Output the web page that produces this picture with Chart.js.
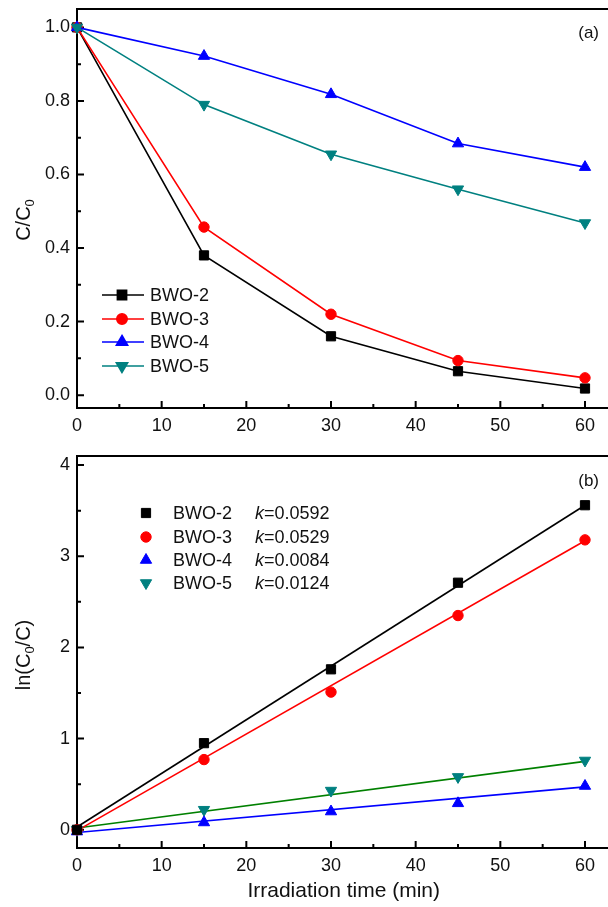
<!DOCTYPE html>
<html>
<head>
<meta charset="utf-8">
<script src="https://cdn.jsdelivr.net/npm/chart.js@4"></script>
<style>
  body { margin: 0; overflow: hidden; background: #fff; width: 608px; height: 907px; }
  .panel { position: absolute; left: 0; }
</style>
</head>
<body>
<div class="panel" style="top:0"><canvas id="chart_a" width="620" height="440"></canvas></div>
<div class="panel" style="top:440px"><canvas id="chart_b" width="620" height="467"></canvas></div>
<script>
// ---- data ----
const times = [0, 15, 30, 45, 60];
const names = ['BWO-2', 'BWO-3', 'BWO-4', 'BWO-5'];
const rates = ['0.0592', '0.0529', '0.0084', '0.0124'];

// (a) C/C0
const ratio_bwo2 = [1.0, 0.38, 0.16, 0.065, 0.018];
const ratio_bwo3 = [1.0, 0.457, 0.22, 0.094, 0.047];
const ratio_bwo4 = [1.0, 0.922, 0.818, 0.684, 0.62];
const ratio_bwo5 = [1.0, 0.79, 0.655, 0.56, 0.468];

// (b) ln(C0/C) and linear fits (value at x=0 and x=60)
const ln_bwo2 = [0, 0.95, 1.76, 2.71, 3.56];
const ln_bwo3 = [0, 0.77, 1.51, 2.35, 3.18];
const ln_bwo4 = [-0.02, 0.08, 0.2, 0.29, 0.48];
const ln_bwo5 = [0, 0.22, 0.43, 0.58, 0.76];
const fit_x = [0, 60];
const fit_bwo2 = [0.03, 3.56];
const fit_bwo3 = [-0.01, 3.17];
const fit_bwo4 = [-0.03, 0.47];
const fit_bwo5 = [0.02, 0.75];

const x_ticks = [0, 10, 20, 30, 40, 50, 60];
const y_ticks_a = [0, 0.2, 0.4, 0.6, 0.8, 1.0];
const y_ticks_b = [0, 1, 2, 3, 4];

// ---- styles ----
const colors = ['#000000', '#ff0000', '#0000ff', '#008080'];
const fit_colors = ['#000000', '#ff0000', '#0000ff', '#008000'];
const markers = [
    {pointStyle: 'rect', radius: 6.5, rotation: 0},
    {pointStyle: 'circle', radius: 5.2, rotation: 0},
    {pointStyle: 'triangle', radius: 6.5, rotation: 0},
    {pointStyle: 'triangle', radius: 6.5, rotation: 180},
];
const FONT = 'Arial, "Liberation Sans", sans-serif';
const TEXT = '#111';

function points(xs, ys) {
    return xs.map((x, i) => ({x: x, y: ys[i]}));
}

function minor_of(ticks) {
    const out = [];
    for (let i = 1; i < ticks.length; i++) out.push((ticks[i - 1] + ticks[i]) / 2);
    return out;
}

function no_padding(sc) {
    sc.paddingTop = 0;
    sc.paddingBottom = 0;
    sc.paddingLeft = 0;
    sc.paddingRight = 0;
}

// frame + inward ticks, drawn before the data so markers sit on top
const frame_plugin = {
    id: 'frame',
    beforeDatasetsDraw(chart, args, opts) {
        const {ctx, chartArea: a} = chart;
        const xs = chart.scales.x, ys = chart.scales.y;
        ctx.save();
        ctx.strokeStyle = '#000';
        ctx.lineWidth = 2;
        ctx.strokeRect(a.left, a.top, a.right - a.left, a.bottom - a.top);
        ctx.beginPath();
        opts.xTicks.forEach(v => { const p = xs.getPixelForValue(v); ctx.moveTo(p, a.bottom); ctx.lineTo(p, a.bottom - 7); });
        minor_of(opts.xTicks).forEach(v => { const p = xs.getPixelForValue(v); ctx.moveTo(p, a.bottom); ctx.lineTo(p, a.bottom - 4); });
        opts.yTicks.forEach(v => { const p = ys.getPixelForValue(v); ctx.moveTo(a.left, p); ctx.lineTo(a.left + 7, p); });
        minor_of(opts.yTicks).forEach(v => { const p = ys.getPixelForValue(v); ctx.moveTo(a.left, p); ctx.lineTo(a.left + 4, p); });
        ctx.stroke();
        ctx.restore();
    },
    afterDraw(chart, args, opts) {
        const ctx = chart.ctx;
        ctx.save();
        ctx.fillStyle = TEXT;
        // panel label
        ctx.font = '17px ' + FONT;
        ctx.textAlign = 'right';
        ctx.textBaseline = 'middle';
        ctx.fillText(opts.label, 599, opts.labelY);
        // rotated y title with subscript
        ctx.translate(23, opts.titleY);
        ctx.rotate(-Math.PI / 2);
        const big = '20px ' + FONT, small = '13px ' + FONT;
        const parts = opts.title;
        let w = 0;
        parts.forEach(p => { ctx.font = p.sub ? small : big; w += ctx.measureText(p.t).width; });
        let x = -w / 2;
        ctx.textAlign = 'left';
        ctx.textBaseline = 'alphabetic';
        parts.forEach(p => {
            ctx.font = p.sub ? small : big;
            ctx.fillText(p.t, x, p.sub ? 11 : 7);
            x += ctx.measureText(p.t).width;
        });
        ctx.restore();
    }
};

function draw_marker(ctx, i, x, y) {
    ctx.fillStyle = colors[i];
    ctx.strokeStyle = colors[i];
    Chart.helpers.drawPoint(ctx, {
        pointStyle: markers[i].pointStyle,
        radius: markers[i].radius,
        rotation: markers[i].rotation,
        borderWidth: 1
    }, x, y);
}

const legend_a = {
    id: 'legend_a',
    afterDraw(chart) {
        const ctx = chart.ctx;
        const rows = [295, 319, 342, 366];
        ctx.save();
        names.forEach((n, i) => {
            const y = rows[i];
            ctx.strokeStyle = colors[i];
            ctx.lineWidth = 1.6;
            ctx.beginPath(); ctx.moveTo(102, y); ctx.lineTo(144, y); ctx.stroke();
            draw_marker(ctx, i, 122, y);
            ctx.fillStyle = TEXT;
            ctx.font = '18px ' + FONT;
            ctx.textAlign = 'left';
            ctx.textBaseline = 'middle';
            ctx.fillText(n, 150, y + 1);
        });
        ctx.restore();
    }
};

const legend_b = {
    id: 'legend_b',
    afterDraw(chart) {
        const ctx = chart.ctx;
        const rows = [73, 97, 120, 143];
        ctx.save();
        names.forEach((n, i) => {
            const y = rows[i];
            draw_marker(ctx, i, 146, y);
            ctx.fillStyle = TEXT;
            ctx.textAlign = 'left';
            ctx.textBaseline = 'middle';
            ctx.font = '18px ' + FONT;
            ctx.fillText(n, 173, y + 1);
            ctx.font = 'italic 18px ' + FONT;
            ctx.fillText('k', 255, y + 1);
            const kw = ctx.measureText('k').width;
            ctx.font = '18px ' + FONT;
            ctx.fillText('=' + rates[i], 255 + kw, y + 1);
        });
        ctx.restore();
    }
};

function x_scale(title, height) {
    const s = {
        type: 'linear',
        min: 0,
        max: 63,
        grid: {display: false, drawTicks: false},
        border: {display: false},
        afterBuildTicks: sc => { sc.ticks = x_ticks.map(v => ({value: v})); },
        afterFit: sc => { sc.height = height; no_padding(sc); },
        ticks: {color: TEXT, font: {family: FONT, size: 18}, padding: 7, maxRotation: 0},
    };
    if (title) {
        s.title = {display: true, text: title, color: TEXT, font: {family: FONT, size: 21}, padding: 0};
    }
    return s;
}

function y_scale(min, max, ticks, digits) {
    return {
        type: 'linear',
        min: min,
        max: max,
        grid: {display: false, drawTicks: false},
        border: {display: false},
        afterBuildTicks: sc => { sc.ticks = ticks.map(v => ({value: v})); },
        afterFit: sc => { sc.width = 77; no_padding(sc); },
        ticks: {
            color: TEXT, font: {family: FONT, size: 18}, padding: 7,
            callback: v => v.toFixed(digits)
        },
    };
}

Chart.defaults.animation = false;
Chart.defaults.devicePixelRatio = 1;

function make_chart_a() {
    const series = [ratio_bwo2, ratio_bwo3, ratio_bwo4, ratio_bwo5];
    const datasets = series.map((vals, i) => ({
        label: names[i],
        data: points(times, vals),
        borderColor: colors[i],
        backgroundColor: colors[i],
        borderWidth: 1.6,
        pointStyle: markers[i].pointStyle,
        pointRadius: markers[i].radius,
        pointRotation: markers[i].rotation,
        pointBorderWidth: 1,
        tension: 0,
        clip: false,
        order: series.length - 1 - i,   // later series drawn on top
    }));
    return new Chart(document.getElementById('chart_a'), {
        type: 'line',
        data: {datasets: datasets},
        options: {
            responsive: false,
            layout: {padding: {top: 9, right: 9.6, left: 0, bottom: 0}},
            scales: {x: x_scale(null, 32), y: y_scale(-0.035, 1.05, y_ticks_a, 1)},
            plugins: {
                legend: {display: false},
                tooltip: {enabled: false},
                frame: {
                    xTicks: x_ticks, yTicks: y_ticks_a, label: '(a)', labelY: 33, titleY: 220,
                    title: [{t: 'C/C'}, {t: '0', sub: true}]
                }
            }
        },
        plugins: [frame_plugin, legend_a]
    });
}

function make_chart_b() {
    const series = [ln_bwo2, ln_bwo3, ln_bwo4, ln_bwo5];
    const fits = [fit_bwo2, fit_bwo3, fit_bwo4, fit_bwo5];
    const dots = series.map((vals, i) => ({
        label: names[i],
        data: points(times, vals),
        showLine: false,
        borderColor: colors[i],
        backgroundColor: colors[i],
        pointStyle: markers[i].pointStyle,
        pointRadius: markers[i].radius,
        pointRotation: markers[i].rotation,
        pointBorderWidth: 1,
        clip: false,
    }));
    const lines = fits.map((vals, i) => ({
        label: names[i] + ' fit',
        data: points(fit_x, vals),
        borderColor: fit_colors[i],
        borderWidth: 1.6,
        pointRadius: 0,
        tension: 0,
        clip: false,
    }));
    return new Chart(document.getElementById('chart_b'), {
        type: 'line',
        data: {datasets: dots.concat(lines)},
        options: {
            responsive: false,
            layout: {padding: {top: 16, right: 9.6, left: 0, bottom: 3}},
            scales: {x: x_scale('Irradiation time (min)', 56), y: y_scale(-0.2, 4.1, y_ticks_b, 0)},
            plugins: {
                legend: {display: false},
                tooltip: {enabled: false},
                frame: {
                    xTicks: x_ticks, yTicks: y_ticks_b, label: '(b)', labelY: 41, titleY: 215,
                    title: [{t: 'ln(C'}, {t: '0', sub: true}, {t: '/C)'}]
                }
            }
        },
        plugins: [frame_plugin, legend_b]
    });
}

make_chart_a();
make_chart_b();
</script>
</body>
</html>
